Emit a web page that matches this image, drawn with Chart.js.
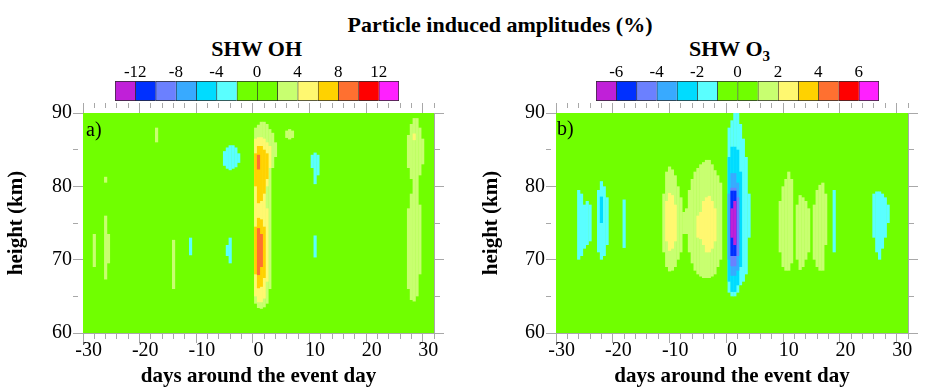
<!DOCTYPE html>
<html><head><meta charset="utf-8">
<script src="https://cdn.jsdelivr.net/npm/chart.js@4/dist/chart.umd.min.js"></script>
<style>
html,body{margin:0;padding:0;background:#fff;}
body{width:928px;height:392px;position:relative;overflow:hidden;font-family:"Liberation Serif","Times New Roman",serif;color:#000;}
.t{position:absolute;white-space:nowrap;font-size:22px;line-height:22px;font-weight:bold;transform:translateX(-50%);}
.p{position:absolute;white-space:nowrap;font-size:20px;line-height:20px;}
canvas{position:absolute;}
</style></head><body>
<div class="t" style="left:500px;top:13.6px">Particle induced amplitudes (%)</div>
<div class="t" style="left:256.7px;top:38.3px">SHW OH</div>
<div class="t" style="left:729.5px;top:38.3px">SHW O<span style="font-size:15px;position:relative;top:5px">3</span></div>
<canvas id="cbA" width="320" height="50" style="left:100px;top:55px"></canvas>
<canvas id="cbB" width="320" height="50" style="left:580px;top:55px"></canvas>
<canvas id="pA" width="464" height="292" style="left:0px;top:100px"></canvas>
<canvas id="pB" width="464" height="292" style="left:464px;top:100px"></canvas>
<div class="p" style="left:86px;top:119px">a)</div>
<div class="p" style="left:557px;top:117.5px">b)</div>
<script>
// ---------- axes ----------
const xTickValues = [-30,-28,-26,-24,-22,-20,-18,-16,-14,-12,-10,-8,-6,-4,-2,0,2,4,6,8,10,12,14,16,18,20,22,24,26,28,30];
const xMajor = [-30,-20,-10,0,10,20,30];
const xTickLabels = ['-30','-20','-10','0','10','20','30'];
const yTickValues = [60,65,70,75,80,85,90];
const yMajor = [60,70,80,90];
const yTickLabels = ['60','70','80','90'];

// ---------- colour scale (one colour per contour interval) ----------
const levelColors = ['#c020d8','#0030ff','#6b80ff','#38aaff','#00dcff','#5affff','#70ff00','#70ff00','#c8ff70','#fff870','#ffd200','#ff7030','#ff0000','#ff20ff'];
const ohBounds = [-14,-12,-10,-8,-6,-4,-2,0,2,4,6,8,10,12,14];
const ohCbTicks = [-12,-8,-4,0,4,8,12];
const ohCbLabels = ['-12','-8','-4','0','4','8','12'];
const o3Bounds = [-7,-6,-5,-4,-3,-2,-1,0,1,2,3,4,5,6,7];
const o3CbTicks = [-6,-4,-2,0,2,4,6];
const o3CbLabels = ['-6','-4','-2','0','2','4','6'];

// ---------- SHW OH: regions per contour interval [day, height from, height to] ----------
const ohCyan = [ // -4 .. -2 %
  [-12,70.6,73],
  [-5.5,70.5,72],[-5,69.5,73],
  [-6,82.8,84.8],[-5.5,82.4,85.3],[-5,82.2,85.6],[-4.5,82.4,85.6],[-4,82.6,85.3],[-3.5,83.2,84.5],
  [9.5,82.5,84.3],[10,80.3,84.6],[10.5,81.5,84.3],
  [10,70.3,73.3]
];
const ohLight = [ // 2 .. 4 %
  [-29,69,73.5],
  [-27,67.3,76],[-26.5,69.5,73.5],[-27,80.5,81.3],
  [-18,86,88],
  [-15,66,72.7],
  [-0.5,64,88],[0,63.4,88.4],[0.5,63.3,88.8],[1,63.5,88.8],[1.5,64,88.5],[2,66,87.8],[2.5,82.5,87.3],[3,84,86],
  [5,86.6,87.6],[5.5,86.4,87.8],[6,86.6,87.6],
  [26.5,66,77],[26.5,82.5,87],[27,64.5,79],[27,81,88.5],[27.5,64.3,89.3],[28,65,89.3],
  [28.5,68,77.5],[28.5,81.5,88],[29,83,86.5]
];
const ohYellow = [ // 4 .. 6 %
  [-0.5,65,86.5],[0,64.2,86.7],[0.5,64.2,86.7],[1,64.7,86.5],[1.5,67,77],[1.5,80,86],[2,82.5,85.5],
  [27.5,86.3,87.2]
];
const ohGold = [ // 6 .. 8 %
  [-0.5,80,84.5],[0,77.7,85.5],[0.5,78,85.5],[1,79,85],[1.5,81,84.5],
  [-0.5,68,74.5],[0,66.1,75.7],[0.5,66.3,75.5],[1,67.5,74.5]
];
const ohOrange = [ // 8 .. 10 %
  [0,82.3,84.3],[0,67.9,74.3],[0.5,69,73.5]
];

// ---------- SHW O3 ----------
const o3Purple = [[0,73,77],[0.5,72,78]];            // < -6 %
const o3Blue = [[0,70.5,79.4],[0.5,70.5,79.4]];      // -6 .. -5
const o3Peri = [[0,69.1,79.8],[0.5,69.1,79.8],[1,70.5,78.5]]; // -5 .. -4
const o3LBlue = [[-0.5,70,79],[0,67.8,81.8],[0.5,67.8,81.8],[1,68.5,80.5]]; // -4 .. -3
const o3Cyan = [ // -3 .. -2
  [-23,75,78.6],
  [-0.5,67,84],[0,65.6,85.4],[0.5,65.6,85.4],[1,66.5,85],[1.5,69,82]
];
const o3LCyan = [ // -2 .. -1
  [-27,70,79.5],[-26.5,70.5,79],[-26,71.5,77.5],[-25.5,72,78],[-25,72.5,77.5],
  [-23.5,71,79.5],[-23,70,80.7],[-22.5,70.5,80],[-22,72,78.5],
  [-19,71.6,78.2],
  [-0.5,65.5,88],[0,65,89],[0.5,65,90],[1,65.5,90],[1.5,66.5,88.5],[2,67,86.5],[2.5,68,84],[3,73,79],
  [18,71,79.5],
  [25,73,79],[25.5,71,79.3],[26,70,79.3],[26.5,71.5,79],[27,73,78.5],[27.5,75,77.5]
];
const o3Light = [ // 1 .. 2
  [-12,71,79],[-11.5,69,82],[-11,68.4,82.7],[-10.5,68.5,82.3],[-10,69,81.5],[-9.5,70,80],[-9,71,78.5],[-8.5,73.5,76.5],
  [-8,73.5,77],[-7.5,71,79.5],[-7,69.5,81],[-6.5,68.5,82],[-6,68,82.5],[-5.5,67.7,83],[-5,67.5,83.3],[-4.5,67.5,83.6],
  [-4,67.5,83.6],[-3.5,67.7,83],[-3,68,82.2],[-2.5,69,81.5],[-2,70,80.5],
  [8.5,71,78],[9,69,80],[9.5,68.5,81],[10,68.5,82],[10.5,69.5,81],
  [11.5,70,77.5],[12,68.6,78.8],[12.5,69,78.5],[13,70,78],[13.5,71,77],
  [14.5,70,77.5],[15,69,79.5],[15.5,68.5,80.2],[16,68.5,80.5],[16.5,72,79]
];
const o3Yellow = [ // 2 .. 3
  [-11.5,72.5,78],[-11,71.2,79.1],[-10.5,71.5,78.8],[-10,72.5,77.5],
  [-6,73,76],[-5.5,72.8,76.5],[-5,72,78],[-4.5,71,78.5],[-4,71,78.7],[-3.5,71.5,78],[-3,72.5,77]
];

// ---------- styling ----------
const SERIF = '"Liberation Serif","Times New Roman",serif';
const TICK = '#a8a8a8';
const GREEN = levelColors[6];

const bgPlugin = {
  id: 'bgfill',
  beforeDatasetsDraw(chart) {
    const {ctx, chartArea: a} = chart;
    ctx.save();
    ctx.fillStyle = GREEN;
    ctx.fillRect(a.left, a.top, a.right - a.left, a.bottom - a.top);
    ctx.restore();
  }
};

function regionSet(rows, color) {
  return {
    data: rows.map(r => ({x: r[0], y: [r[1], r[2]]})),
    backgroundColor: color,
    borderWidth: 0,
    grouped: false,
    barPercentage: 1,
    categoryPercentage: 1.12
  };
}

function tickGrid(majors) {
  return {
    display: true, drawOnChartArea: false, drawTicks: true,
    tickLength: 10, tickColor: TICK, tickWidth: 1,
    tickBorderDash: (c) => (c.tick && majors.includes(c.tick.value)) ? [] : [5, 40]
  };
}

function panel(id, datasets, yWidth, rightWidth, yTitlePad) {
  new Chart(document.getElementById(id), {
    type: 'bar',
    data: {datasets},
    plugins: [bgPlugin],
    options: {
      responsive: false, animation: false,
      layout: {padding: 0},
      plugins: {legend: {display: false}, tooltip: {enabled: false}},
      scales: {
        x: {
          type: 'linear', position: 'bottom', min: -30, max: 30,
          afterBuildTicks: s => { s.ticks = xTickValues.map(v => ({value: v})); },
          afterFit: s => { s.height = 59; },
          grid: tickGrid(xMajor),
          border: {display: true, color: TICK},
          ticks: {
            autoSkip: false, maxRotation: 0, minRotation: 0, padding: -2, color: '#000',
            font: {family: SERIF, size: 20, lineHeight: 1},
            callback: v => { const i = xMajor.indexOf(v); return i >= 0 ? xTickLabels[i] : ''; }
          },
          title: {display: true, text: 'days around the event day', color: '#000',
                  font: {family: SERIF, size: 21, weight: 'bold', lineHeight: 1}, padding: {top: 0, bottom: 5}}
        },
        x2: {
          type: 'linear', position: 'top', min: -30, max: 30,
          afterBuildTicks: s => { s.ticks = xTickValues.map(v => ({value: v})); },
          afterFit: s => { s.height = 13; },
          grid: tickGrid(xMajor),
          border: {display: true, color: TICK},
          ticks: {display: false}
        },
        y: {
          type: 'linear', position: 'left', min: 60, max: 90,
          afterBuildTicks: s => { s.ticks = yTickValues.map(v => ({value: v})); },
          afterFit: s => { s.width = yWidth; },
          grid: tickGrid(yMajor),
          border: {display: true, color: TICK},
          ticks: {
            autoSkip: false, padding: 1, color: '#000',
            font: {family: SERIF, size: 20, lineHeight: 1},
            callback: v => { const i = yMajor.indexOf(v); return i >= 0 ? yTickLabels[i] : ''; }
          },
          title: {display: true, text: 'height (km)', color: '#000',
                  font: {family: SERIF, size: 21, weight: 'bold', lineHeight: 1}, padding: {top: yTitlePad, bottom: 0}}
        },
        y2: {
          type: 'linear', position: 'right', min: 60, max: 90,
          afterBuildTicks: s => { s.ticks = yTickValues.map(v => ({value: v})); },
          afterFit: s => { s.width = rightWidth; },
          grid: tickGrid(yMajor),
          border: {display: true, color: TICK},
          ticks: {display: false}
        }
      }
    }
  });
}

function colorbar(id, bounds, ticks, labels, pad) {
  const n = bounds.length - 1;
  const datasets = [];
  for (let i = 0; i < n; i++) {
    datasets.push({
      data: [[bounds[i], bounds[i + 1]]],
      backgroundColor: levelColors[i],
      borderColor: '#2a2a2a',
      borderWidth: {top: 1, bottom: 1, left: 1, right: i === n - 1 ? 1 : 0},
      borderSkipped: false,
      grouped: false, barPercentage: 1, categoryPercentage: 1
    });
  }
  new Chart(document.getElementById(id), {
    type: 'bar',
    data: {labels: ['scale'], datasets},
    options: {
      indexAxis: 'y', responsive: false, animation: false,
      layout: {padding: pad},
      plugins: {legend: {display: false}, tooltip: {enabled: false}},
      scales: {
        x: {
          type: 'linear', position: 'top', min: bounds[0], max: bounds[n],
          afterBuildTicks: s => { s.ticks = ticks.map(v => ({value: v})); },
          afterFit: s => { s.height = 26; },
          grid: {display: false, drawTicks: false},
          border: {display: false},
          ticks: {
            autoSkip: false, maxRotation: 0, padding: 0, color: '#000',
            font: {family: SERIF, size: 17, lineHeight: 1},
            callback: v => { const i = ticks.indexOf(v); return i >= 0 ? labels[i] : ''; }
          }
        },
        y: {display: false}
      }
    }
  });
}

colorbar('cbA', ohBounds, ohCbTicks, ohCbLabels, {left: 15, right: 21, top: 0, bottom: 4});
colorbar('cbB', o3Bounds, o3CbTicks, o3CbLabels, {left: 16, right: 21, top: 0, bottom: 4});

panel('pA', [
  regionSet(ohOrange, levelColors[11]),
  regionSet(ohGold, levelColors[10]),
  regionSet(ohYellow, levelColors[9]),
  regionSet(ohLight, levelColors[8]),
  regionSet(ohCyan, levelColors[5])
], 83, 30, 6);

panel('pB', [
  regionSet(o3Purple, levelColors[0]),
  regionSet(o3Blue, levelColors[1]),
  regionSet(o3Peri, levelColors[2]),
  regionSet(o3LBlue, levelColors[3]),
  regionSet(o3Cyan, levelColors[4]),
  regionSet(o3LCyan, levelColors[5]),
  regionSet(o3Yellow, levelColors[9]),
  regionSet(o3Light, levelColors[8])
], 92, 20, 17);
</script>
</body></html>
